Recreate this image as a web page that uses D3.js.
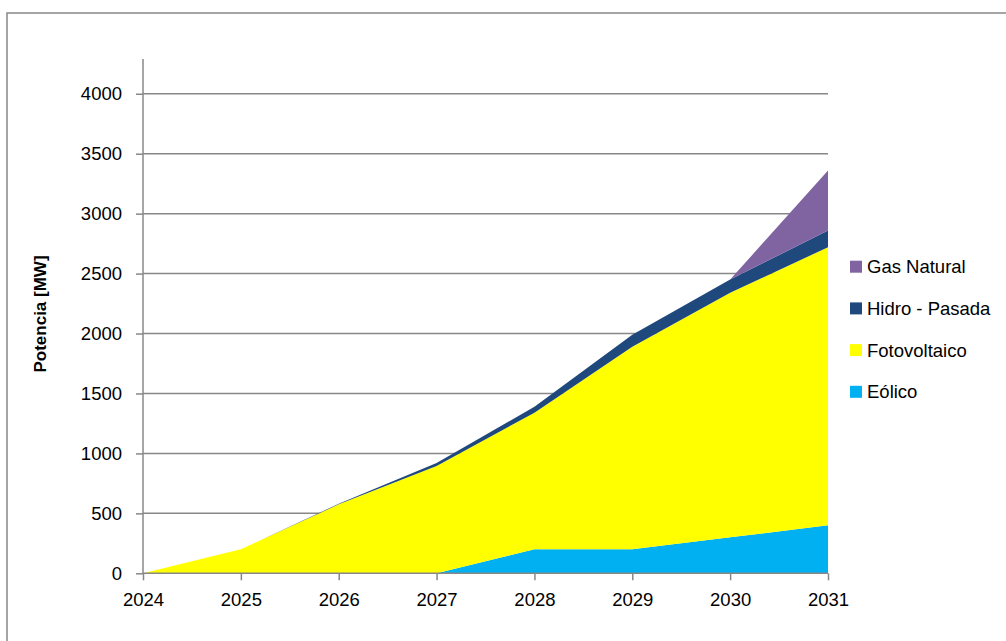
<!DOCTYPE html>
<html>
<head>
<meta charset="utf-8">
<script src="https://cdn.jsdelivr.net/npm/d3@7"></script>
<style>
  html, body { margin: 0; padding: 0; background: #fff; }
  svg { display: block; }
  text { font-family: "Liberation Sans", Arial, sans-serif; fill: #000; }
</style>
</head>
<body>
<svg id="chart" width="1006" height="641"></svg>
<script>
// Installed capacity by technology (MW), stacked
const years = ["2024", "2025", "2026", "2027", "2028", "2029", "2030", "2031"];
const eolico = [0, 0, 0, 0, 200, 200, 300, 400];
const fotovoltaico = [0, 200, 575, 895, 1140, 1690, 2040, 2320];
const hidroPasada = [0, 0, 5, 25, 50, 100, 110, 140];
const gasNatural = [0, 0, 0, 0, 0, 0, 0, 500];

const seriesNames = ["Eólico", "Fotovoltaico", "Hidro - Pasada", "Gas Natural"];
const seriesColors = ["#00B0F0", "#FFFF00", "#1F497D", "#8064A2"];
const yTicks = [0, 500, 1000, 1500, 2000, 2500, 3000, 3500, 4000];
const yTitle = "Potencia [MW]";

const rows = years.map((yr, i) => ({
  year: yr,
  "Eólico": eolico[i],
  "Fotovoltaico": fotovoltaico[i],
  "Hidro - Pasada": hidroPasada[i],
  "Gas Natural": gasNatural[i]
}));

const svg = d3.select("#chart");
const grid = "#888888";

// outer frame
svg.append("rect")
  .attr("x", 7).attr("y", 13)
  .attr("width", 1010).attr("height", 640)
  .attr("fill", "none").attr("stroke", grid).attr("stroke-width", 1.5);

const plotLeft = 143, plotRight = 828, plotBottom = 573.3, plotTop = 59;
const x = d3.scalePoint().domain(years).range([plotLeft, plotRight]).padding(0);
const y = d3.scaleLinear().domain([0, 4290]).range([plotBottom, plotTop]);

// horizontal gridlines
svg.append("g").selectAll("line")
  .data(yTicks.filter(d => d > 0))
  .join("line")
  .attr("x1", plotLeft).attr("x2", plotRight)
  .attr("y1", d => y(d)).attr("y2", d => y(d))
  .attr("stroke", grid).attr("stroke-width", 1.5);

// stacked areas
const stack = d3.stack().keys(seriesNames);
const layers = stack(rows);
const area = d3.area()
  .x(d => x(d.data.year))
  .y0(d => y(d[0]))
  .y1(d => y(d[1]));

svg.append("g").selectAll("path")
  .data(layers)
  .join("path")
  .attr("d", area)
  .attr("fill", (d, i) => seriesColors[i]);

// y axis
const yAxis = d3.axisLeft(y).tickValues(yTicks).tickSize(7).tickPadding(14).tickFormat(d3.format("d"));
const gy = svg.append("g").attr("transform", `translate(${plotLeft},0)`).call(yAxis);
gy.select(".domain").attr("stroke", grid).attr("stroke-width", 1.5)
  .attr("d", `M0,${plotTop}V${plotBottom}`);
gy.selectAll(".tick line").attr("stroke", grid).attr("stroke-width", 1.5);
gy.selectAll(".tick text").style("font-size", "18.5px").attr("fill", "#000");

// x axis
const xAxis = d3.axisBottom(x).tickSize(7).tickPadding(13);
const gx = svg.append("g").attr("transform", `translate(0,${plotBottom})`).call(xAxis);
gx.select(".domain").attr("stroke", grid).attr("stroke-width", 1.5)
  .attr("d", `M${plotLeft},0H${plotRight}`);
gx.selectAll(".tick line").attr("stroke", grid).attr("stroke-width", 1.5);
gx.selectAll(".tick text").style("font-size", "18.5px").attr("fill", "#000");

// y axis title
svg.append("text")
  .attr("transform", `translate(46,314) rotate(-90)`)
  .attr("text-anchor", "middle")
  .style("font-size", "17px")
  .style("font-weight", "bold")
  .text(yTitle);

// legend (top series first)
const legendOrder = seriesNames.map((n, i) => ({ name: n, color: seriesColors[i] })).reverse();
const lg = svg.append("g").selectAll("g")
  .data(legendOrder)
  .join("g")
  .attr("transform", (d, i) => `translate(850,${266.7 + i * 41.7})`);
lg.append("rect")
  .attr("x", 0).attr("y", -6).attr("width", 12).attr("height", 12)
  .attr("fill", d => d.color);
lg.append("text")
  .attr("x", 17).attr("y", 0).attr("dy", "0.35em")
  .style("font-size", "18.5px")
  .text(d => d.name);
</script>
</body>
</html>
